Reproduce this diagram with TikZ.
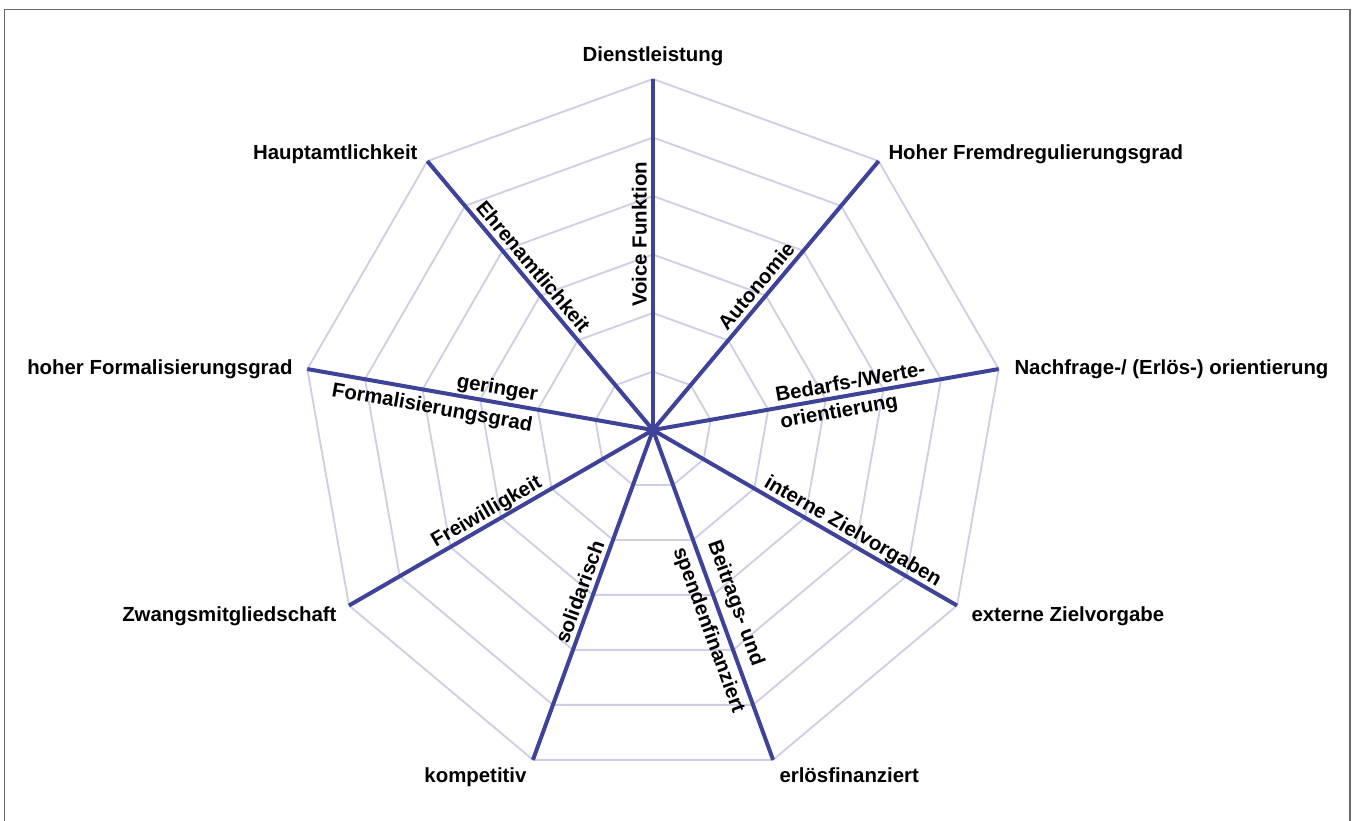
\documentclass[tikz,border=0pt]{standalone}
\usepackage{fontspec}
\setmainfont{Liberation Sans}
\usetikzlibrary{calc}
\definecolor{axisblue}{RGB}{62,66,152}
\definecolor{ringlilac}{RGB}{206,206,231}
\definecolor{framegray}{RGB}{105,105,105}
\tikzset{every picture/.style={line width=0.75pt}}
\tikzset{
  axisline/.style={draw=axisblue, line width=3pt},
  ringline/.style={draw=ringlilac, line width=1.4pt},
  endlbl/.style={font=\fontsize{15.3}{18}\selectfont\bfseries, inner sep=0pt},
  axislbl/.style={font=\fontsize{15.3}{18}\selectfont\bfseries, inner xsep=0pt, inner ysep=1.2pt, text height=11pt, text depth=3.2pt},
}
\begin{document}
\begin{tikzpicture}[x=0.75pt,y=0.75pt,yscale=-1,xscale=1]
	\useasboundingbox (0,0) rectangle (1354,821);

	%Shape: Frame
	\draw [framegray, line width=1.1pt] (4.5,821) -- (4.5,9.5) -- (1350,9.5) -- (1350,821) ;

	% centre and axis ends
	\coordinate (c) at (653,430);
	\foreach \i in {0,...,8} \path (c) ++({40*\i-90}:351) coordinate (a\i);

	%Shape: Rings
	\foreach \k in {1,...,6}
		\draw [ringline] ($(c)+(-90:58.5*\k)$) \foreach \i in {1,...,8} { -- ($(c)+({40*\i-90}:58.5*\k)$) } -- cycle ;

	%Shape: Axes
	\foreach \i in {0,...,8} \draw [axisline] (c) -- (a\i) ;

	% Text Node
	\draw (653,61) node [anchor=base][endlbl] (t0) {Dienstleistung};
	% Text Node
	\draw (888,159) node [anchor=base west][endlbl] (t1) {Hoher Fremdregulierungsgrad};
	% Text Node
	\draw (1014,374) node [anchor=base west][endlbl] (t2) {Nachfrage-/ (Erlös-) orientierung};
	% Text Node
	\draw (971,621) node [anchor=base west][endlbl] (t3) {externe Zielvorgabe};
	% Text Node
	\draw (779,782) node [anchor=base west][endlbl] (t4) {erlösfinanziert};
	% Text Node
	\draw (527,782) node [anchor=base east][endlbl] (t5) {kompetitiv};
	% Text Node
	\draw (337,621) node [anchor=base east][endlbl] (t6) {Zwangsmitgliedschaft};
	% Text Node
	\draw (293,374) node [anchor=base east][endlbl] (t7) {hoher Formalisierungsgrad};
	% Text Node
	\draw (418,159) node [anchor=base east][endlbl] (t8) {Hauptamtlichkeit};

	% Axis labels
	\path (c) -- (a0) node [pos=0.35, rotate=90, anchor=south west][axislbl] (l0) {Voice Funktion};
	\path (c) -- (a1) node [pos=0.35, rotate=50, anchor=south west][axislbl] (l1) {Autonomie};
	\path (c) -- (a2) node [pos=0.36, rotate=10, anchor=south west][axislbl] (l2a) {Bedarfs-/Werte-}
		node [pos=0.36, rotate=10, anchor=north west][axislbl, inner ysep=4pt] (l2b) {orientierung};
	\path (c) -- (a3) node [pos=0.35, rotate=-30, anchor=south west][axislbl] (l3) {interne Zielvorgaben};
	\path (c) -- (a4) node [pos=0.355, rotate=-70, anchor=south west][axislbl, inner ysep=6pt] (l4a) {Beitrags- und}
		node [pos=0.34, rotate=-70, anchor=north west][axislbl, inner ysep=5pt] (l4b) {spendenfinanziert};
	\path (c) -- (a5) node [pos=0.35, rotate=70, anchor=south east][axislbl] (l5) {solidarisch};
	\path (c) -- (a6) node [pos=0.35, rotate=30, anchor=south east][axislbl] (l6) {Freiwilligkeit};
	\path (c) -- (a7) node [pos=0.34, rotate=-10, anchor=south east][axislbl, inner ysep=2.5pt] (l7a) {geringer}
		node [pos=0.34, rotate=-10, anchor=north east][axislbl, inner ysep=5.5pt] (l7b) {Formalisierungsgrad};
	\path (c) -- (a8) node [pos=0.34, rotate=-50, anchor=south east][axislbl] (l8) {Ehrenamtlichkeit};

\end{tikzpicture}
\end{document}
